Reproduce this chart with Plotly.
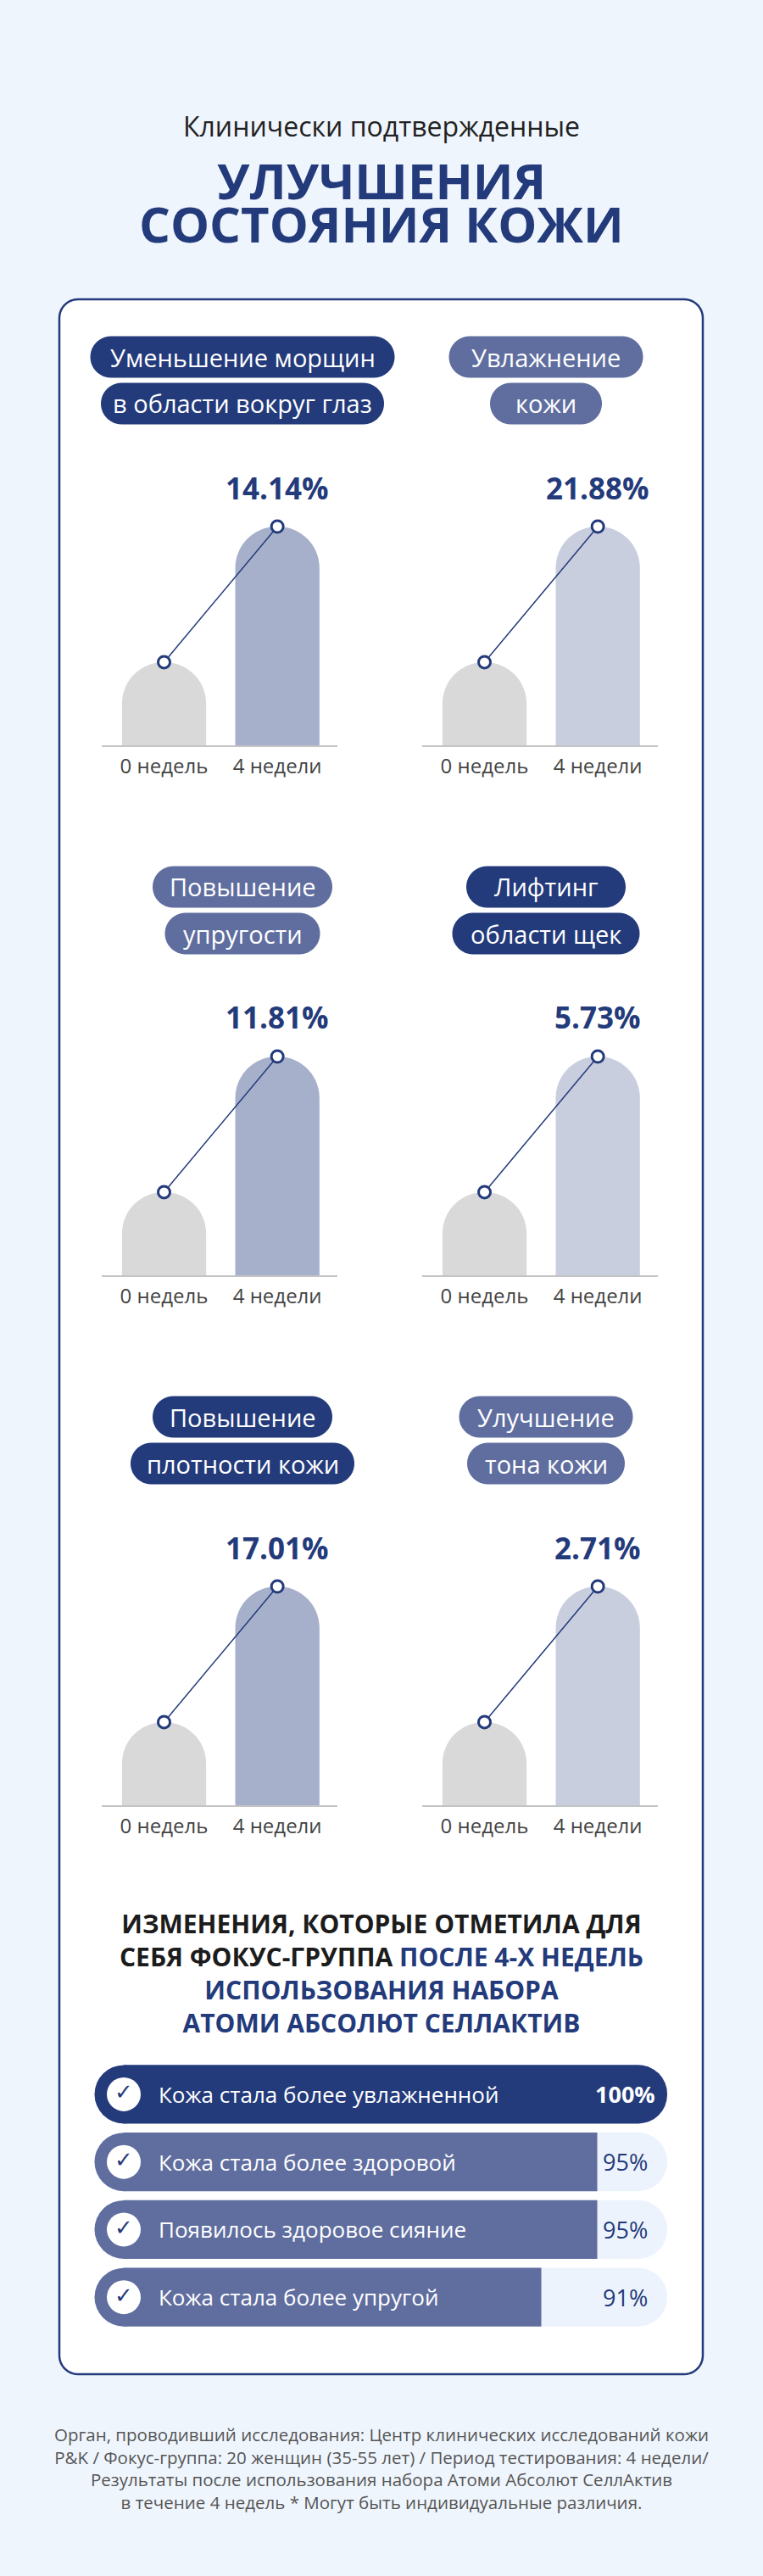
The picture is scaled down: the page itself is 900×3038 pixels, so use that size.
import numpy as np
import plotly.graph_objects as go

# === Canvas ===
W, H = 900, 3038
NAVY = "#233a7b"
MID = "#5f6e9f"
FONT = "Open Sans"

# === Data ===
weeks = ["0 недель", "4 недели"]
panel_line1 = ["Уменьшение морщин", "Увлажнение", "Повышение", "Лифтинг", "Повышение", "Улучшение"]
panel_line2 = ["в области вокруг глаз", "кожи", "упругости", "области щек", "плотности кожи", "тона кожи"]
improvement = ["14.14%", "21.88%", "11.81%", "5.73%", "17.01%", "2.71%"]
level_week0 = [38, 38, 38, 38, 38, 38]
level_week4 = [100, 100, 100, 100, 100, 100]

survey_items = ["Кожа стала более увлажненной", "Кожа стала более здоровой",
                "Появилось здоровое сияние", "Кожа стала более упругой"]
survey_share = [100, 95, 95, 91]
survey_total = [100, 100, 100, 100]


# === Helpers (pixel -> paper) ===
def px(x):
    return x / W


def py(y):
    return 1 - y / H


def round_rect(x0, y0, x1, y1, r, n=12):
    pts = []
    for cx, cy, a0, a1 in [(x1 - r, y0 + r, -90, 0), (x1 - r, y1 - r, 0, 90),
                           (x0 + r, y1 - r, 90, 180), (x0 + r, y0 + r, 180, 270)]:
        for a in np.radians(np.linspace(a0, a1, n)):
            pts.append((cx + r * np.cos(a), cy + r * np.sin(a)))
    return "M " + " L ".join(f"{px(x):.5f},{py(y):.5f}" for x, y in pts) + " Z"


def text_at(x, y, text, size, color, weight=400, **kw):
    return dict(x=px(x), y=py(y), xref="paper", yref="paper", text=text, showarrow=False,
                xanchor=kw.pop("xanchor", "center"), yanchor="middle",
                font=dict(size=size, color=color, family=FONT, weight=weight), **kw)


fig = go.Figure()
shapes = []
annotations = []
layout_axes = {}

# white card
shapes.append(dict(type="path", path=round_rect(70, 353, 829, 2800, 22), xref="paper", yref="paper",
                   fillcolor="white", line=dict(color=NAVY, width=2.5), layer="below"))

# === Six small bar panels ===
col_x = [120, 498]
pill_cx = [286, 644]
row_base = [879, 1504, 2129]
row_pill = [421, 1046, 1671]
bar_4w_color = ["#a6b0cb", "#c9cede"]
pill_fill = [NAVY, MID, MID, NAVY, NAVY, MID]
pill_w = [(359, 334), (229, 132), (212, 183), (188, 221), (212, 264), (205, 186)]
plot_h = 283.8

for i in range(6):
    r, c = i // 2, i % 2
    k = i + 1
    xn = "x" if k == 1 else f"x{k}"
    yn = "y" if k == 1 else f"y{k}"

    fig.add_trace(go.Bar(
        x=weeks, y=[level_week0[i], level_week4[i]], width=0.743,
        marker=dict(color=["#d9d9d9", bar_4w_color[c]], cornerradius="50%", line_width=0),
        xaxis=xn, yaxis=yn, showlegend=False, hoverinfo="skip"))
    fig.add_trace(go.Scatter(
        x=weeks, y=[level_week0[i], level_week4[i]], mode="lines+markers",
        line=dict(color=NAVY, width=1.5),
        marker=dict(size=14, color="white", line=dict(color=NAVY, width=3)),
        cliponaxis=False, xaxis=xn, yaxis=yn, showlegend=False, hoverinfo="skip"))

    annotations.append(dict(x=weeks[1], y=level_week4[i], xref=xn, yref=yn, yshift=46,
                            text=improvement[i], showarrow=False, yanchor="middle",
                            font=dict(size=35, color=NAVY, family=FONT, weight=700)))

    b = row_base[r]
    layout_axes["xaxis" if k == 1 else f"xaxis{k}"] = dict(
        domain=[px(col_x[c]), px(col_x[c] + 278)], range=[-0.55, 1.53], type="category",
        anchor=yn, showline=True, linecolor="#c4c4c4", linewidth=2, showgrid=False,
        zeroline=False, ticks="", ticklabelstandoff=2, fixedrange=True,
        tickfont=dict(size=24, color="#444444", family=FONT))
    layout_axes["yaxis" if k == 1 else f"yaxis{k}"] = dict(
        domain=[py(b), py(b - plot_h)], range=[0, 110], anchor=xn, visible=False, fixedrange=True)

    # title pills
    for j, (label, w) in enumerate(zip([panel_line1[i], panel_line2[i]], pill_w[i])):
        cy = row_pill[r] + 55 * j
        cx = pill_cx[c]
        shapes.append(dict(type="path", path=round_rect(cx - w / 2, cy - 24.5, cx + w / 2, cy + 24.5, 24.5),
                           xref="paper", yref="paper", fillcolor=pill_fill[i], line_width=0))
        annotations.append(text_at(cx, cy, label, 29, "white"))

# === Survey bars ===
k_px = 16.5  # px per percent point
x_start = 100 - (787 - 146) / k_px
x_end = 100 + (800 - 787) / k_px
row_colors = [NAVY, MID, MID, MID]

fig.add_trace(go.Bar(
    y=survey_items, x=survey_total, orientation="h", width=0.866,
    marker=dict(color="#edf3fc", cornerradius=35, line_width=0),
    xaxis="x7", yaxis="y7", showlegend=False, hoverinfo="skip"))
fig.add_trace(go.Bar(
    y=survey_items, x=survey_share, orientation="h", width=0.866,
    marker=dict(color=row_colors, cornerradius=35, line_width=0),
    xaxis="x7", yaxis="y7", showlegend=False, hoverinfo="skip"))
fig.add_trace(go.Scatter(
    y=survey_items, x=[x_start] * 4, mode="markers",
    marker=dict(size=69, color=row_colors, line_width=0),
    cliponaxis=False, xaxis="x7", yaxis="y7", showlegend=False, hoverinfo="skip"))
fig.add_trace(go.Scatter(
    y=survey_items, x=[x_start] * 4, mode="markers+text", text=["✓"] * 4,
    textposition="middle center",
    textfont=dict(size=26, color=NAVY, family="DejaVu Sans", weight=700),
    marker=dict(size=40, color="white", line_width=0),
    cliponaxis=False, xaxis="x7", yaxis="y7", showlegend=False, hoverinfo="skip"))

layout_axes["xaxis7"] = dict(domain=[px(146), px(800)], range=[x_start, x_end],
                             anchor="y7", visible=False, fixedrange=True)
layout_axes["yaxis7"] = dict(domain=[py(2749), py(2430)], type="category", range=[3.5, -0.5],
                             anchor="x7", visible=False, fixedrange=True)

for item, share in zip(survey_items, survey_share):
    annotations.append(dict(x=px(185), y=item, xref="paper", yref="y7", text=item,
                            showarrow=False, xanchor="left", yanchor="middle",
                            font=dict(size=26, color="white", family=FONT)))
    top = share == max(survey_share)
    annotations.append(dict(x=px(737), y=item, xref="paper", yref="y7", text=f"{share}%",
                            showarrow=False, xanchor="center", yanchor="middle",
                            font=dict(size=27, color="white" if top else NAVY, family=FONT,
                                      weight=700 if top else 400)))

# === Texts ===
annotations += [
    text_at(450, 148, "Клинически подтвержденные", 32, "#222222"),
    text_at(450, 212, "УЛУЧШЕНИЯ", 58, NAVY, 700),
    text_at(450, 263, "СОСТОЯНИЯ КОЖИ", 58, NAVY, 700),
    text_at(450, 2327,
            "ИЗМЕНЕНИЯ, КОТОРЫЕ ОТМЕТИЛА ДЛЯ<br>СЕБЯ ФОКУС-ГРУППА "
            f"<span style='color:{NAVY}'>ПОСЛЕ 4-Х НЕДЕЛЬ</span><br>"
            f"<span style='color:{NAVY}'>ИСПОЛЬЗОВАНИЯ НАБОРА</span><br>"
            f"<span style='color:{NAVY}'>АТОМИ АБСОЛЮТ СЕЛЛАКТИВ</span>",
            30, "#1c1c1c", 700, align="center"),
    text_at(450, 2911,
            "Орган, проводивший исследования: Центр клинических исследований кожи<br>"
            "P&K / Фокус-группа: 20 женщин (35-55 лет) / Период тестирования: 4 недели/<br>"
            "Результаты после использования набора Атоми Абсолют СеллАктив<br>"
            "в течение 4 недель * Могут быть индивидуальные различия.",
            20.5, "#555555", align="center"),
]

fig.update_layout(
    width=W, height=H, autosize=False,
    margin=dict(l=0, r=0, t=0, b=0),
    paper_bgcolor="#eff5fd", plot_bgcolor="rgba(0,0,0,0)",
    font=dict(family=FONT),
    barmode="overlay",
    shapes=shapes, annotations=annotations,
    **layout_axes,
)

fig.write_html("out.html", config={"displayModeBar": False},
               post_script="document.body.style.margin='0px';")
